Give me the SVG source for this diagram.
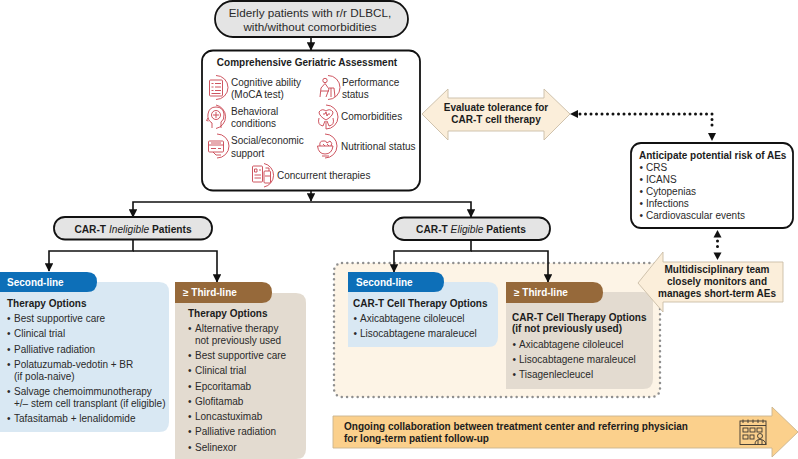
<svg xmlns="http://www.w3.org/2000/svg" width="798" height="459" viewBox="0 0 798 459">
<style>
text{font-family:"Liberation Sans",Arial,sans-serif;font-size:10px;fill:#2a2a2a}
.b{font-weight:700;fill:#1c1c1c}
.w{fill:#fff;font-weight:700;font-size:10px}
.m{text-anchor:middle}
.t{font-size:11.7px}
.p{font-weight:700;font-size:10.2px;fill:#1c1c1c}
.i{font-style:italic;font-weight:400}
.box{fill:#fff;stroke:#111;stroke-width:1.8}
.pill{fill:#e4e4e4;stroke:#111;stroke-width:1.8}
.ln{fill:none;stroke:#111;stroke-width:1.6}
.dot{fill:none;stroke:#111;stroke-width:3;stroke-linecap:round;stroke-dasharray:0 5.5}
.ah{fill:#111}
.ic{fill:none;stroke:#c8434f;stroke-width:.9}
.cream{fill:#fbeeda;stroke:#c9bca6;stroke-width:.9}
.or{fill:#fbd08c;stroke:#c9b48f;stroke-width:.9}
</style>
<defs>
<marker id="a" viewBox="0 0 10 10" refX="9" refY="5" markerWidth="9" markerHeight="8.500" markerUnits="userSpaceOnUse" orient="auto"><path d="M0 0L10 5L0 10Z" fill="#111"/></marker>
</defs>

<g id="eligible-zone"><rect x="334" y="263" width="326" height="134" rx="8" fill="#fdf4e6" stroke="#8f8f8f" stroke-width="2.500" stroke-linecap="round" stroke-dasharray="0 5.300"/></g>

<g id="connectors">
<path class="ln" d="M311 36V50" marker-end="url(#a)"/>
<path class="ln" d="M311 190V201" marker-end="url(#a)"/>
<path class="ln" d="M311 202H133V217" marker-end="url(#a)"/>
<path class="ln" d="M311 202H471V217" marker-end="url(#a)"/>
<path class="ln" d="M133 240V251H49V271" marker-end="url(#a)"/>
<path class="ln" d="M133 251H217V282" marker-end="url(#a)"/>
<path class="ln" d="M471 240V251H394V272" marker-end="url(#a)"/>
<path class="ln" d="M471 251H548V282" marker-end="url(#a)"/>
<path class="dot" d="M580 114H712V129"/>
<path class="ah" d="M570 114L578 110V118Z"/>
<path class="ah" d="M712 141L708 133H716Z"/>
<path class="ah" d="M717.500 230L713.500 237.500H721.500Z"/>
<path class="ah" d="M717.500 260L713.500 252.500H721.500Z"/>
<path class="dot" d="M717.500 241V251"/>
</g>

<g id="n-top"><rect class="pill" x="215" y="1" width="193" height="36" rx="18"/>
<text class="m t" x="310" y="17">Elderly patients with r/r DLBCL,</text>
<text class="m t" x="310" y="31">with/without comorbidities</text></g>

<g id="n-cga"><rect class="box" x="202" y="50.500" width="218" height="140" rx="11"/>
<text class="b m" x="307" y="66">Comprehensive Geriatric Assessment</text>
<text x="231" y="86">Cognitive ability</text><text x="231" y="98">(MoCA test)</text>
<text x="231" y="115">Behavioral</text><text x="231" y="127">conditions</text>
<text x="231" y="144">Social/economic</text><text x="231" y="157">support</text>
<text x="342" y="86">Performance</text><text x="342" y="98">status</text>
<text x="341" y="120">Comorbidities</text>
<text x="341" y="150">Nutritional status</text>
<text x="277" y="179">Concurrent therapies</text>
<g class="ic">
<path d="M216 75.500A12 12 0 0 1 216 99.500"/><rect x="209.500" y="80" width="13" height="16" rx="1"/><path d="M211.500 83.500h2M215 83.500h6M211.500 87h2M215 87h6M211.500 90.500h2M215 90.500h6M211.500 93.500h9"/>
<path d="M216 105A12 12 0 0 1 216 128.500"/><path d="M212 128V123Q207 120 208 114Q209 107 216 107Q223 107 224 114Q224.500 120 221 122V128"/><circle cx="216" cy="115" r="4.500"/><path d="M216 112V118M213 115H219M208 118L206.500 120.500L208.500 121"/>
<path d="M217 134A12 12 0 0 1 217 158"/><rect x="208.500" y="141" width="15" height="11" rx="1"/><path d="M208.500 145H223.500M211 148.500H216M211 143H221M218 148.500H221M213 152L216 155L221 155"/>
<path d="M328 75.500A12 12 0 0 1 328 99.500"/><circle cx="325" cy="80.500" r="2.200"/><path d="M325 83.500L321 88L320 97M325 83.500L329 89L326 97M329 88H334L335 97M321 91L329 91M331 88V97"/>
<path d="M326 105A12 12 0 0 1 326 129"/><path d="M319 112Q322 108 326 111Q330 108 333 112Q333 116 326 120Q319 116 319 112Z"/><path d="M319 118Q317 125 323 126L325 121M333 118Q335 125 329 126L327 121M326 121V129"/><path d="M323 114H325L326 112L327 116L328 114H330"/>
<path d="M325 134A12 12 0 0 1 325 158"/><path d="M317.500 146H333Q332 154 325 154Q318.500 154 317.500 146Z"/><path d="M320 146Q319 141 323 141Q326 140 327 143L330 141Q333 143 331 146M322 156H329M323 144L325 146M327 144L329 146"/>
<path d="M264 163.500A12 12 0 0 1 264 187"/><rect x="252.500" y="166" width="10" height="16" rx="1"/><rect x="264" y="171" width="6.500" height="12" rx="1"/><path d="M254.500 169H257V172H254.500ZM259 170H261M254.500 175H261M254.500 178H261M265.500 168H269V171M265 176H270"/>
</g></g>

<g id="n-tolerance"><path class="cream" d="M422 114L448 89V98H544V89L570 114L544 140V131H448V140Z"/>
<text class="b m" x="496" y="111">Evaluate tolerance for</text><text class="b m" x="496" y="123">CAR-T cell therapy</text></g>

<g id="n-risk"><rect class="box" x="631" y="143" width="162" height="85" rx="10"/>
<text class="b" x="639" y="159">Anticipate potential risk of AEs</text>
<text x="639.500" y="171">•<tspan x="646">CRS</tspan></text><text x="639.500" y="183">•<tspan x="646">ICANS</tspan></text><text x="639.500" y="195">•<tspan x="646">Cytopenias</tspan></text><text x="639.500" y="207">•<tspan x="646">Infections</tspan></text><text x="639.500" y="219">•<tspan x="646">Cardiovascular events</tspan></text></g>

<g id="n-ineligible"><rect class="pill" x="54" y="217" width="158" height="22.500" rx="11"/>
<text class="p m" x="133" y="232.500">CAR-T <tspan class="i">Ineligible</tspan> Patients</text></g>
<g id="n-eligible"><rect class="pill" x="393" y="217.500" width="157" height="22.500" rx="11"/>
<text class="p m" x="471" y="232.500">CAR-T <tspan class="i">Eligible</tspan> Patients</text></g>

<g id="n-inel-second"><path d="M0 282H159Q169 282 169 292V422Q169 432 159 432H0Z" fill="#d9e8f3"/>
<path d="M0 272H87Q97 272 97 282Q97 292 87 292H0Z" fill="#0d6fb8"/>
<text class="w" x="7" y="286">Second-line</text>
<text class="b" x="7" y="306.500">Therapy Options</text>
<text x="7" y="322">•<tspan x="14">Best supportive care</tspan></text><text x="7" y="337">•<tspan x="14">Clinical trial</tspan></text><text x="7" y="352.500">•<tspan x="14">Palliative radiation</tspan></text><text x="7" y="368">•<tspan x="14">Polatuzumab-vedotin + BR</tspan></text><text x="14" y="380">(if pola-naive)</text><text x="7" y="395">•<tspan x="14">Salvage chemoimmunotherapy</tspan></text><text x="14" y="407">+/– stem cell transplant (if eligible)</text><text x="7" y="422">•<tspan x="14">Tafasitamab + lenalidomide</tspan></text></g>

<g id="n-inel-third"><path d="M175 293H296Q306 293 306 303V449Q306 459 296 459H175Z" fill="#e3dbd0"/>
<path d="M175 282H262Q272 282 272 292.500Q272 303 262 303H175Z" fill="#96693a"/>
<text class="w" x="183" y="295.500">≥ Third-line</text>
<text class="b" x="188" y="316.500">Therapy Options</text>
<text x="188" y="332">•<tspan x="195">Alternative therapy</tspan></text><text x="195" y="344">not previously used</text><text x="188" y="359">•<tspan x="195">Best supportive care</tspan></text><text x="188" y="374">•<tspan x="195">Clinical trial</tspan></text><text x="188" y="389.500">•<tspan x="195">Epcoritamab</tspan></text><text x="188" y="405">•<tspan x="195">Glofitamab</tspan></text><text x="188" y="420">•<tspan x="195">Loncastuximab</tspan></text><text x="188" y="435">•<tspan x="195">Palliative radiation</tspan></text><text x="188" y="451">•<tspan x="195">Selinexor</tspan></text></g>

<g id="n-el-second"><path d="M348 282H488Q498 282 498 292V337Q498 347 488 347H348Z" fill="#d9e8f3"/>
<path d="M348 272H434Q444 272 444 282Q444 292 434 292H348Z" fill="#0d6fb8"/>
<text class="w" x="356" y="286">Second-line</text>
<text class="b" x="353" y="306.500">CAR-T Cell Therapy Options</text>
<text x="353.500" y="322">•<tspan x="360">Axicabtagene ciloleucel</tspan></text><text x="353.500" y="337">•<tspan x="360">Lisocabtagene maraleucel</tspan></text></g>

<g id="n-el-third"><path d="M506 292H643Q653 292 653 302V379Q653 389 643 389H506Z" fill="#e3dbd0"/>
<path d="M506 282H593Q603 282 603 292.500Q603 303 593 303H506Z" fill="#96693a"/>
<text class="w" x="514" y="295.500">≥ Third-line</text>
<text class="b" x="512" y="320.500">CAR-T Cell Therapy Options</text><text class="b" x="512" y="332">(if not previously used)</text>
<text x="512.500" y="348">•<tspan x="519">Axicabtagene ciloleucel</tspan></text><text x="512.500" y="363">•<tspan x="519">Lisocabtagene maraleucel</tspan></text><text x="512.500" y="378">•<tspan x="519">Tisagenlecleucel</tspan></text></g>

<g id="n-team"><path class="cream" d="M638 283L663 252V262H783V302H663V312Z"/>
<text class="b m" x="717" y="273">Multidisciplinary team</text><text class="b m" x="717" y="285">closely monitors and</text><text class="b m" x="717" y="297">manages short-term AEs</text></g>

<g id="n-followup"><path class="or" d="M333 416H772V407L798 432L772 457V448H333Z"/>
<text class="b" x="344" y="430">Ongoing collaboration between treatment center and referring physician</text>
<text class="b" x="344" y="442">for long-term patient follow-up</text>
<g fill="none" stroke="#3a3630" stroke-width=".9"><rect x="740" y="421" width="26" height="23.500"/><path d="M740 425.500H766M743 419.500V423M748 419.500V423M753 419.500V423M758 419.500V423M763 419.500V423"/><rect x="743" y="428" width="5" height="4"/><rect x="750" y="428" width="5" height="4"/><rect x="757" y="428" width="5" height="4"/><rect x="743" y="435" width="5" height="4"/><rect x="750" y="435" width="4" height="4"/><circle cx="760" cy="436" r="2.500"/><path d="M755 444.500Q755 439.500 760 439.500Q765 439.500 766 444.500M758 440V444.500M762 440V444.500"/></g></g>
</svg>
